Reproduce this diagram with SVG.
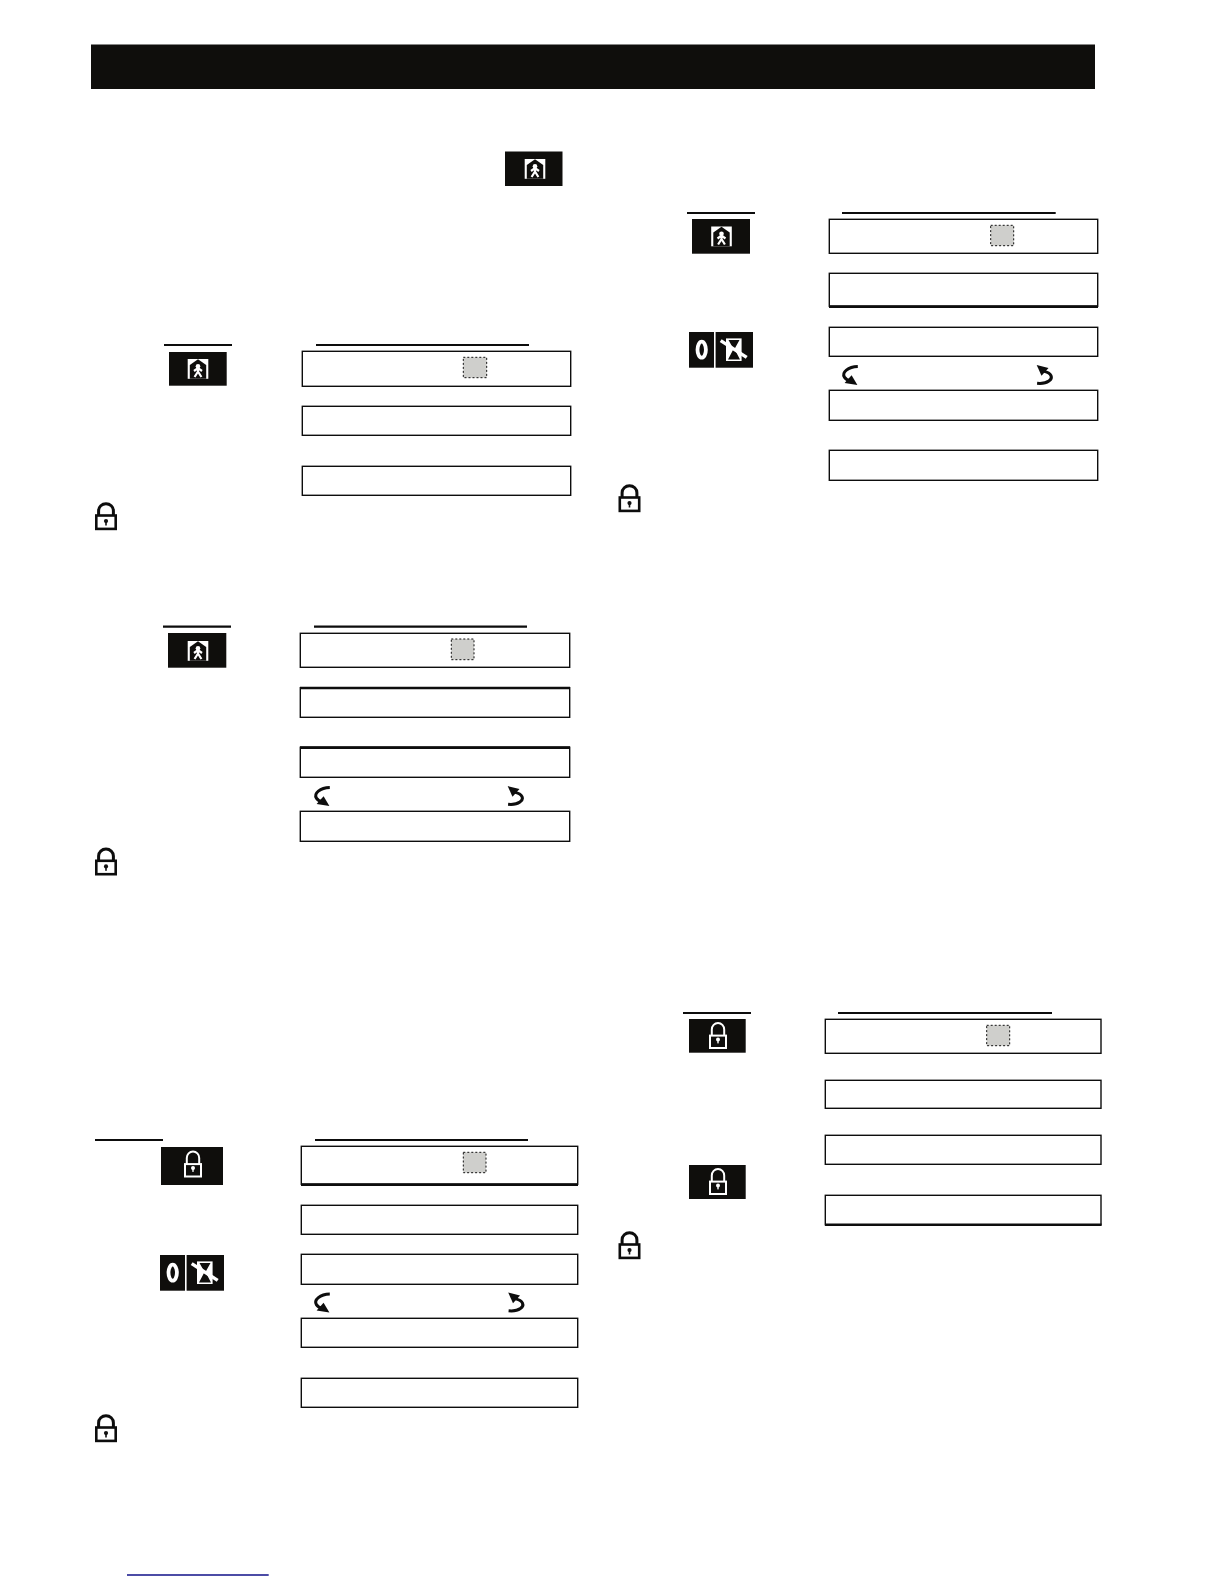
<svg xmlns="http://www.w3.org/2000/svg" xmlns:xlink="http://www.w3.org/1999/xlink" width="1224" height="1584" viewBox="0 0 1224 1584">
<style>
.bg{fill:#fff}
.box{fill:#fff;stroke:#0d0d0d;stroke-width:1.4}
.thick{stroke:#0d0d0d;stroke-width:2.6;fill:none}
.rule{stroke:#0d0d0d;stroke-width:2.2;fill:none}
.sw{fill:#cfcfcc;stroke:#111;stroke-width:1;stroke-dasharray:2 2}
.ik{fill:#0f0e0c}
.w{fill:#fff}
.ws{fill:none;stroke:#fff}
</style>
<defs>
<symbol id="home" overflow="visible">
<rect class="w" x="-10.3" y="-10" width="20.6" height="19.8"/>
<polygon class="ik" points="-8.2,9.8 -8.2,-4 0,-9.8 8.2,-4 8.2,9.8"/>
<circle class="w" cx="0" cy="-2.8" r="2.3"/>
<path class="ws" stroke-width="2.2" d="M0,-2V3.2M-4,2 0,-1 4,2M-3.4,8 0,2.5 3.4,8"/>
</symbol>
<symbol id="lockK" overflow="visible">
<path fill="none" stroke="#0d0d0d" stroke-width="3" d="M3.6,14V8.2A7.4,7 0 0 1 18.4,8.2V14"/>
<rect x="1.3" y="13" width="19.4" height="13.4" fill="#fff" stroke="#0d0d0d" stroke-width="2.6"/>
<circle cx="11" cy="18.6" r="2.1" fill="#111"/>
<rect x="10.2" y="19" width="1.6" height="4" fill="#111"/>
</symbol>
<symbol id="lockW" overflow="visible">
<path class="ws" stroke-width="2" d="M-6.2,2V-6.5A6.2,6.5 0 0 1 6.2,-6.5V2"/>
<rect x="-8" y="-.4" width="16" height="12.4" fill="#0f0e0c" stroke="#fff" stroke-width="2"/>
<circle class="w" cx="0" cy="3.6" r="2"/>
<rect class="w" x="-.7" y="3.6" width="1.4" height="3.8"/>
</symbol>
<symbol id="arrowL" overflow="visible">
<path fill="none" stroke="#0d0d0d" stroke-width="3" d="M15.8,1C6,1.2 -.4,7 2.4,11.6C3.8,13.8 6,14.8 8.4,15.4"/>
<polygon fill="#0d0d0d" points="15.4,19.4 2.6,17.4 9.6,9.8"/>
</symbol>
<symbol id="arrowR" overflow="visible">
<path fill="none" stroke="#0d0d0d" stroke-width="3" d="M7,5.6C15.4,7.4 16.8,12.6 12.4,15.6C9.6,17.6 5,18.2 .6,17.8"/>
<polygon fill="#0d0d0d" points=".2,-.4 12,2.4 5,10.2"/>
</symbol>
<symbol id="zeroSand" overflow="visible">
<rect class="ik" x="0" y="0" width="25" height="35.7"/>
<rect class="ik" x="26.6" y="0" width="37.4" height="35.7"/>
<ellipse class="ws" cx="12.7" cy="17.7" rx="4.2" ry="8" stroke-width="3.8"/>
<rect class="w" x="37" y="6.4" width="15.6" height="22.6"/>
<polygon class="ik" points="39.5,8 50.5,8 45.5,17 51,27.5 39,27.5 44.5,17"/>
<path class="ws" stroke-width="3.4" d="M31.7,8.6 57.7,25.4"/>
</symbol>
</defs>
<rect class="bg" width="1224" height="1584"/>
<rect id="header" class="ik" x="91" y="44.5" width="1004" height="44.5"/>
<g id="intro-icon"><rect class="ik" x="505" y="151.5" width="57.5" height="34.5"/><use href="#home" x="535" y="169"/></g>

<g id="section-a">
<path class="rule" d="M164,345H232M316,345H529"/>
<g id="a-key"><rect class="ik" x="169" y="352" width="57.7" height="33.7"/><use href="#home" x="198" y="369"/></g>
<rect class="box" x="302.3" y="351.3" width="268.4" height="35"/>
<rect class="sw" x="463.3" y="357.3" width="23.4" height="20.4"/>
<rect class="box" x="302.3" y="406.3" width="268.4" height="29"/>
<rect class="box" x="302.3" y="466.3" width="268.4" height="29"/>
<use id="a-lock" href="#lockK" x="95" y="502.5"/>
</g>

<g id="section-b">
<path class="rule" d="M687,213H755M842,213H1055.7"/>
<g id="b-key"><rect class="ik" x="692" y="219" width="58" height="34.7"/><use href="#home" x="721.5" y="236.5"/></g>
<rect class="box" x="829.3" y="219.3" width="268.4" height="34"/>
<rect class="sw" x="990.7" y="225.3" width="23" height="20.4"/>
<rect class="box" x="829.3" y="273.3" width="268.4" height="33"/>
<path class="thick" d="M829,306.6H1098"/>
<rect class="box" x="829.3" y="327.3" width="268.4" height="29"/>
<rect class="box" x="829.3" y="390.3" width="268.4" height="30"/>
<rect class="box" x="829.3" y="450.3" width="268.4" height="30"/>
<use id="b-zero" href="#zeroSand" x="689" y="332"/>
<use id="b-lock" href="#lockK" x="618.5" y="484.5"/>
</g>

<g id="section-c">
<path class="rule" d="M163,626.7H231M314,626.7H527"/>
<g id="c-key"><rect class="ik" x="168" y="633" width="58.3" height="34.7"/><use href="#home" x="198" y="651"/></g>
<rect class="box" x="300.3" y="633.3" width="269.4" height="34"/>
<rect class="sw" x="451.3" y="639" width="22.7" height="20.7"/>
<rect class="box" x="300.3" y="687.7" width="269.4" height="29.6"/>
<path class="thick" d="M300,688H570"/>
<rect class="box" x="300.3" y="747.3" width="269.4" height="30"/>
<path class="thick" d="M300,747.6H570"/>
<rect class="box" x="300.3" y="811.3" width="269.4" height="30"/>
<use id="c-lock" href="#lockK" x="95" y="847.8"/>
</g>

<g id="section-d">
<path class="rule" d="M95,1140H163M315,1140H528"/>
<g id="d-key"><rect class="ik" x="161" y="1147" width="62" height="38"/><use href="#lockW" x="193" y="1164.5"/></g>
<rect class="box" x="301.3" y="1146.3" width="276.4" height="38"/>
<path class="thick" d="M301,1184.6H578"/>
<rect class="sw" x="463.3" y="1152.3" width="22.7" height="20.4"/>
<rect class="box" x="301.3" y="1205.3" width="276.4" height="29"/>
<rect class="box" x="301.3" y="1254.3" width="276.4" height="30"/>
<rect class="box" x="301.3" y="1318.3" width="276.4" height="29"/>
<rect class="box" x="301.3" y="1378.3" width="276.4" height="29"/>
<use id="d-zero" href="#zeroSand" x="160" y="1255"/>
<use id="d-lock" href="#lockK" x="95" y="1414.5"/>
</g>

<g id="section-e">
<path class="rule" d="M683,1013H751M838,1013H1052"/>
<g id="e-key1"><rect class="ik" x="689" y="1019" width="56.7" height="33.7"/><use href="#lockW" x="718" y="1036"/></g>
<rect class="box" x="825.3" y="1019.3" width="275.7" height="34"/>
<rect class="sw" x="986.7" y="1025.3" width="23" height="20.4"/>
<rect class="box" x="825.3" y="1080.3" width="275.7" height="28"/>
<rect class="box" x="825.3" y="1135.3" width="275.7" height="29"/>
<g id="e-key2"><rect class="ik" x="689" y="1165" width="56.7" height="34"/><use href="#lockW" x="718" y="1182"/></g>
<rect class="box" x="825.3" y="1195.3" width="275.7" height="29.5"/>
<path class="thick" d="M825,1224.8H1101.5"/>
<use id="e-lock" href="#lockK" x="618.5" y="1231.5"/>
</g>

<g id="connectors">
<use href="#arrowL" x="842" y="365.5"/><use href="#arrowR" x="1036.5" y="365.5"/>
<use href="#arrowL" x="314" y="786.5"/><use href="#arrowR" x="507.5" y="786.5"/>
<use href="#arrowL" x="314" y="1293"/><use href="#arrowR" x="508" y="1293"/>
</g>
<rect id="footer-rule" x="127" y="1574.3" width="141.7" height="1.4" fill="#000080"/>
</svg>
